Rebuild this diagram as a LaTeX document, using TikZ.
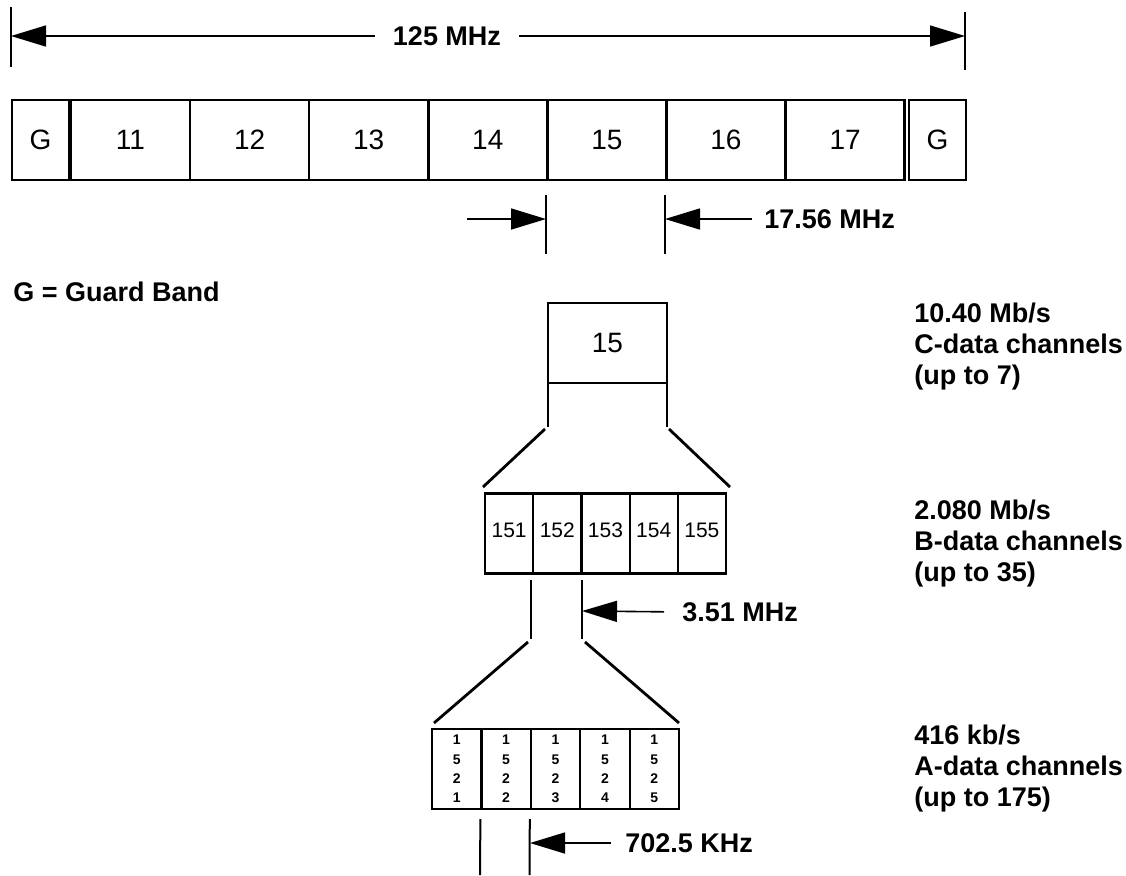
\documentclass[tikz,border=0pt]{standalone}
\usepackage{fontspec}
\setmainfont{Liberation Sans}
\usetikzlibrary{arrows.meta,calc}

\tikzset{
  chan/.style={draw,line width=1.2pt,minimum width=59.5pt,minimum height=40pt,
    inner sep=0pt,outer sep=0pt,font=\fontsize{14}{16}\selectfont},
  guard/.style={chan,minimum width=28.5pt,line width=1pt},
  bchan/.style={draw,line width=1.1pt,minimum width=24.1pt,minimum height=40pt,
    inner sep=0pt,outer sep=0pt,text depth=3.5pt,font=\fontsize{10.5}{12}\selectfont},
  achan/.style={draw,line width=1.1pt,minimum width=24.7pt,minimum height=40pt,
    inner sep=0pt,outer sep=0pt,align=center,font=\bfseries\fontsize{7}{9.65}\selectfont},
  lbl/.style={font=\bfseries\fontsize{13.5}{15.5}\selectfont,inner sep=0pt,align=left},
  dimarrow/.style={-{Triangle[length=17.5pt,width=10.5pt]},line width=0.8pt},
  tick/.style={line width=0.9pt},
  stem/.style={line width=1pt},
  funnel/.style={line width=1.4pt}
}

\begin{document}
\begin{tikzpicture}[x=0.5pt,y=-0.5pt]
    \useasboundingbox (0,0) rectangle (1126,875);

    % banda totale
    \draw[tick] (11,7) -- (11,67);
    \draw[tick] (965,12) -- (965,70);
    \coordinate (dimL) at (11,36);
    \coordinate (dimR) at (965,36);
    \node[lbl,inner xsep=9pt] (bw) at (447,36) {125 MHz};
    \draw[dimarrow] (bw.west) -- (dimL);
    \draw[dimarrow] (bw.east) -- (dimR);

    % canali C
    \node[guard] (gL) at (40.5,140) {G};
    \foreach \n [count=\k from 0] in {11,...,17}
        \node[chan] (c\n) at ({130.5+119.1*\k},140) {\n};
    \node[guard] (gR) at (937.5,140) {G};

    % larghezza canale C
    \draw[tick] (546,195) -- (546,254);
    \draw[tick] (665,195) -- (665,254);
    \coordinate (wLtail) at (467,219);
    \coordinate (wL) at (546,219);
    \coordinate (wR) at (665,219);
    \draw[dimarrow] (wLtail) -- (wL);
    \node[lbl,anchor=west] (w1756) at (764,219) {17.56 MHz};
    \draw[dimarrow,shorten <=6pt] (w1756.west) -- (wR);

    \node[lbl,anchor=west] (gnote) at (13,292) {G = Guard Band};

    % canale 15
    \node[chan] (cb15) at (607.5,343) {15};
    \node[lbl,anchor=west] (rateC) at (914,347) {10.40 Mb/s\\C-data channels\\(up to 7)};
    \draw[stem] (cb15.south west) -- ++(0,44);
    \draw[stem] (cb15.south east) -- ++(0,44);
    \draw[funnel] (545,429) -- (483,487);
    \draw[funnel] (669,429) -- (730,487);

    % canali B
    \foreach \n [count=\k from 0] in {151,...,155}
        \node[bchan] (b\n) at ({509.1+48.2*\k},533.5) {\n};
    \node[lbl,anchor=west] (rateB) at (914,544) {2.080 Mb/s\\B-data channels\\(up to 35)};
    \draw[stem] ($(b152.south west)+(-2,6)$) -- ++(0,59);
    \draw[stem] ($(b152.south east)+(0.5,6)$) -- ++(0,59);
    \coordinate (w2R) at (582,611);
    \node[lbl,anchor=west] (w351) at (682,612) {3.51 MHz};
    \draw[dimarrow,shorten <=9pt] (w351.west) -- (w2R);
    \draw[funnel] (528,642) -- (434,723);
    \draw[funnel] (585,642) -- (679,723);

    % canali A
    \foreach \d [count=\k from 0] in {1,...,5}
        \node[achan] (a152\d) at ({456.7+49.4*\k},769) {1\\5\\2\\\d};
    \node[lbl,anchor=west] (rateA) at (914,769) {416 kb/s\\A-data channels\\(up to 175)};
    \draw[stem] ($(a1522.south west)+(-1,10)$) -- (480,875);
    \draw[stem] ($(a1522.south east)+(-1,10)$) -- (529.5,875);
    \coordinate (w3R) at (530,843);
    \node[lbl,anchor=west] (w7025) at (625,843) {702.5 KHz};
    \draw[dimarrow,shorten <=7pt] (w7025.west) -- (w3R);
\end{tikzpicture}
\end{document}
